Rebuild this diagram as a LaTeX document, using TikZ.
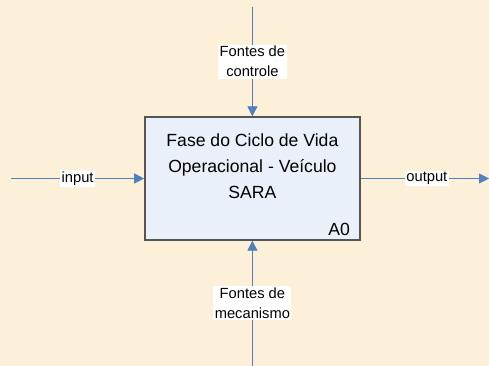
\documentclass[tikz,border=0pt]{standalone}
\usepackage{fontspec}
\setmainfont{Liberation Sans}
\usetikzlibrary{arrows.meta}
\definecolor{bg}{RGB}{252,240,216}
\definecolor{boxfill}{RGB}{234,240,250}
\definecolor{flow}{RGB}{79,129,189}
\definecolor{border}{RGB}{85,85,85}
\tikzset{
  actbox/.style={draw=border, fill=boxfill, line width=1.4pt, minimum width=215pt, minimum height=123pt, inner sep=0pt},
  flowline/.style={draw=flow, line width=0.9pt, -{Triangle[length=10pt,width=10pt]}},
  lbl/.style={fill=white, inner sep=1.5pt, align=center, font=\fontsize{14.7}{20}\selectfont}
}
\begin{document}
\begin{tikzpicture}[x=1pt,y=-1pt]
\fill[bg] (0,0) rectangle (489,366);
\useasboundingbox (0,0) rectangle (489,366);
\node[actbox] (A0) at (252.4,178.5) {};
\node[align=center, inner sep=0pt, anchor=north, font=\fontsize{17.6}{26}\selectfont] (title) at (252.4,133.2) {Fase do Ciclo de Vida\\Operacional - Veículo\\SARA};
\node[anchor=base east, inner sep=0pt, font=\fontsize{17.6}{26}\selectfont] (code) at (350,235) {A0};
\coordinate (ctop) at (A0.north |- 0,7);
\coordinate (mbot) at (A0.south |- 0,366);
\coordinate (inL) at (11,178.5);
\coordinate (outR) at (489,178.5);
\draw[flowline] (ctop) -- (A0.north) node[lbl, midway] (ctl) {Fontes de\\controle};
\draw[flowline] (mbot) -- (A0.south) node[lbl, midway] (mec) {Fontes de\\mecanismo};
\draw[flowline] (inL) -- (A0.west) node[lbl, midway] (inp) {input};
\draw[flowline] (A0.east) -- (outR) node[lbl, pos=0.516] (outp) {output};
\end{tikzpicture}
\end{document}
